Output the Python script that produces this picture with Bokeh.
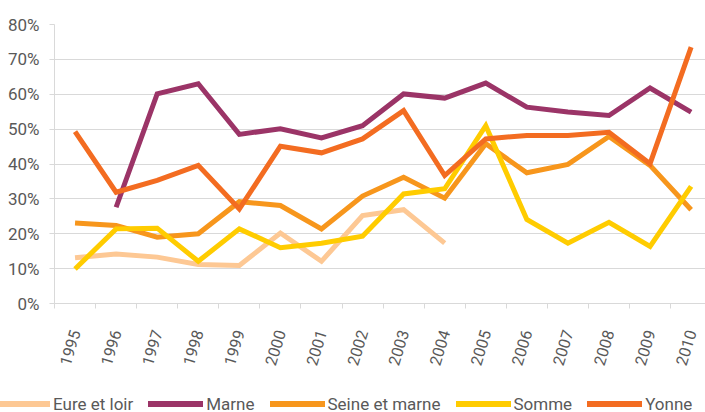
import numpy as np
from bokeh.plotting import figure
from bokeh.layouts import column
from bokeh.models import (LinearAxis, FixedTicker, PrintfTickFormatter, Range1d, Div)
from bokeh.embed import file_html
from bokeh.resources import INLINE

years = ["1995", "1996", "1997", "1998", "1999", "2000", "2001", "2002",
         "2003", "2004", "2005", "2006", "2007", "2008", "2009", "2010"]
eure_et_loir = [13.1, 14.2, 13.3, 11.2, 10.9, 20.2, 12.1, 25.2, 26.9, 17.3,
                None, None, None, None, None, None]
marne = [None, 27.6, 60.1, 63.0, 48.5, 50.1, 47.5, 51.0, 60.1, 58.9,
         63.2, 56.3, 54.9, 53.9, 61.8, 54.9]
seine_et_marne = [23.1, 22.4, 19.0, 20.0, 29.2, 28.1, 21.4, 30.8, 36.2, 30.2,
                  45.8, 37.5, 39.9, 47.9, 39.6, 26.9]
somme = [9.9, 21.4, 21.6, 12.1, 21.4, 16.0, 17.3, 19.3, 31.4, 32.9,
         51.0, 24.1, 17.3, 23.3, 16.4, 33.6]
yonne = [49.3, 31.9, 35.3, 39.6, 27.1, 45.1, 43.2, 47.2, 55.3, 36.7,
         47.2, 48.2, 48.2, 49.1, 40.1, 73.5]
y_ticks = [0, 10, 20, 30, 40, 50, 60, 70, 80]

series = [
    ("Eure et loir", eure_et_loir, "#FDC894"),
    ("Marne", marne, "#9B3467"),
    ("Seine et marne", seine_et_marne, "#F7961C"),
    ("Somme", somme, "#FFCC00"),
    ("Yonne", yonne, "#F36C21"),
]

FONT = "Roboto"
GRID = "#d9d9d9"
TXT = "#595959"

xs = list(range(len(years)))
boundaries = [i - 0.5 for i in range(len(years) + 1)]

p = figure(width=705, height=390, output_backend="svg", toolbar_location=None,
           x_range=Range1d(-0.5, 15.35), y_range=Range1d(0, 80),
           x_axis_location=None,
           min_border_left=54, min_border_top=24, min_border_right=0,
           min_border_bottom=87)
p.outline_line_color = None
p.xgrid.visible = False

p.yaxis.ticker = FixedTicker(ticks=y_ticks)
p.yaxis.formatter = PrintfTickFormatter(format="%d%%")
p.yaxis.axis_line_color = GRID
p.yaxis.major_tick_line_color = GRID
p.yaxis.major_tick_out = 5
p.yaxis.major_tick_in = 0
p.yaxis.minor_tick_line_color = None
p.yaxis.major_label_text_font = FONT
p.yaxis.major_label_text_font_size = "17px"
p.yaxis.major_label_text_color = TXT
p.yaxis.major_label_standoff = 10
p.ygrid.ticker = FixedTicker(ticks=y_ticks)
p.ygrid.grid_line_color = GRID

# category labels at the centres, tick marks between categories (minor ticks)
ax = LinearAxis(ticker=FixedTicker(ticks=xs, minor_ticks=boundaries),
                major_label_overrides={i: y for i, y in enumerate(years)},
                axis_line_color=GRID, major_tick_line_color=None,
                major_tick_out=0, major_tick_in=0,
                minor_tick_line_color=GRID, minor_tick_out=5, minor_tick_in=0,
                major_label_orientation=np.deg2rad(73),
                major_label_standoff=22,
                major_label_text_font=FONT,
                major_label_text_font_size="16px",
                major_label_text_color=TXT)
p.add_layout(ax, "below")

for name, vals, col in series:
    ys = np.array(vals, dtype=float)
    p.line(xs, ys, line_width=5, line_color=col, line_join="miter")

# legend row underneath the chart
parts = []
for name, _vals, col in series:
    parts.append(
        '<span style="display:inline-flex;align-items:center;margin-right:15px;">'
        f'<span style="display:inline-block;width:55px;height:6px;background:{col};'
        'margin-right:3px;"></span>'
        f'<span style="font-family:{FONT};font-size:17px;line-height:20px;color:{TXT};">'
        f'{name}</span></span>'
    )
legend_html = (
    '<div style="position:relative;width:705px;height:22px;overflow:hidden;">'
    '<div style="position:absolute;left:-5px;top:4px;height:20px;display:flex;'
    'align-items:center;white-space:nowrap;">' + "".join(parts) + '</div></div>'
)
legend_div = Div(text=legend_html, width=705, height=22, margin=(0, 0, 0, 0))

layout = column(p, legend_div, spacing=0)
open("out.html", "w").write(file_html(layout, INLINE))
